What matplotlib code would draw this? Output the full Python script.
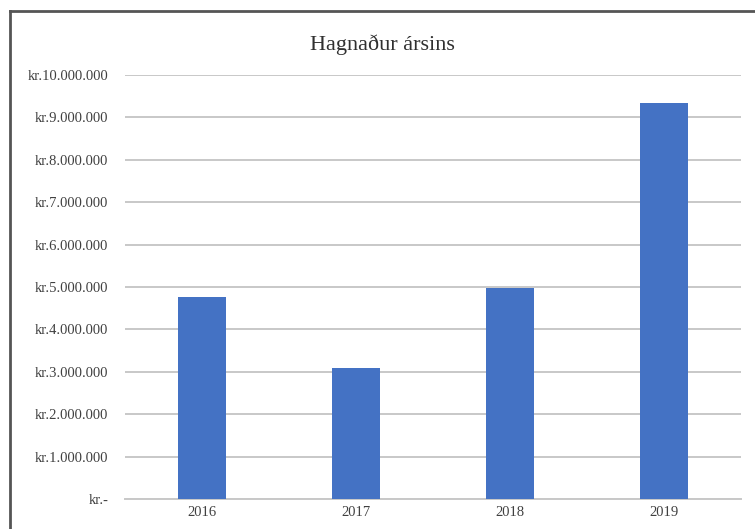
import matplotlib.pyplot as plt
from matplotlib.lines import Line2D

plt.rcParams["font.family"] = ["Liberation Serif", "DejaVu Serif"]

years = ["2016", "2017", "2018", "2019"]
profit = [4760000, 3100000, 4980000, 9330000]
y_ticks = [0, 1000000, 2000000, 3000000, 4000000, 5000000,
           6000000, 7000000, 8000000, 9000000, 10000000]


def kr_label(v):
    if v == 0:
        return "kr.-"
    return "kr." + f"{int(v):,}".replace(",", ".")


fig = plt.figure(figsize=(7.55, 5.29), dpi=100, facecolor="white")
ax = fig.add_axes([0.1656, 0.0567, 0.8159, 0.8015])

x = range(len(years))
ax.bar(x, profit, width=0.31, color="#4472C4", zorder=3)

ax.set_xlim(-0.5, len(years) - 0.5)
ax.set_ylim(0, 10000000)
ax.set_yticks(y_ticks)
ax.set_yticklabels([kr_label(v) for v in y_ticks], fontsize=10.5, color="#404040")
ax.set_xticks(list(x))
ax.set_xticklabels(years, fontsize=10.5, color="#404040")

ax.yaxis.grid(True, color="#C8C8C8", linewidth=1.4, zorder=0)
ax.tick_params(axis="both", length=0)
ax.tick_params(axis="y", pad=12)
ax.tick_params(axis="x", pad=5)
for side in ["top", "right", "left"]:
    ax.spines[side].set_visible(False)
ax.spines["bottom"].set_color("#C8C8C8")
ax.spines["bottom"].set_linewidth(1.4)

fig.text(0.507, 0.915, "Hagnaður ársins", ha="center", va="center",
         fontsize=16, color="#303030")

# ramminn utan um myndina
top = 1 - 11 / 529
left = 10 / 755
fig.add_artist(Line2D([left, left], [0, top], transform=fig.transFigure,
                      color="#555555", linewidth=2))
fig.add_artist(Line2D([left, 1], [top, top], transform=fig.transFigure,
                      color="#555555", linewidth=2))

fig.savefig("out.png", dpi=100, facecolor="white")
